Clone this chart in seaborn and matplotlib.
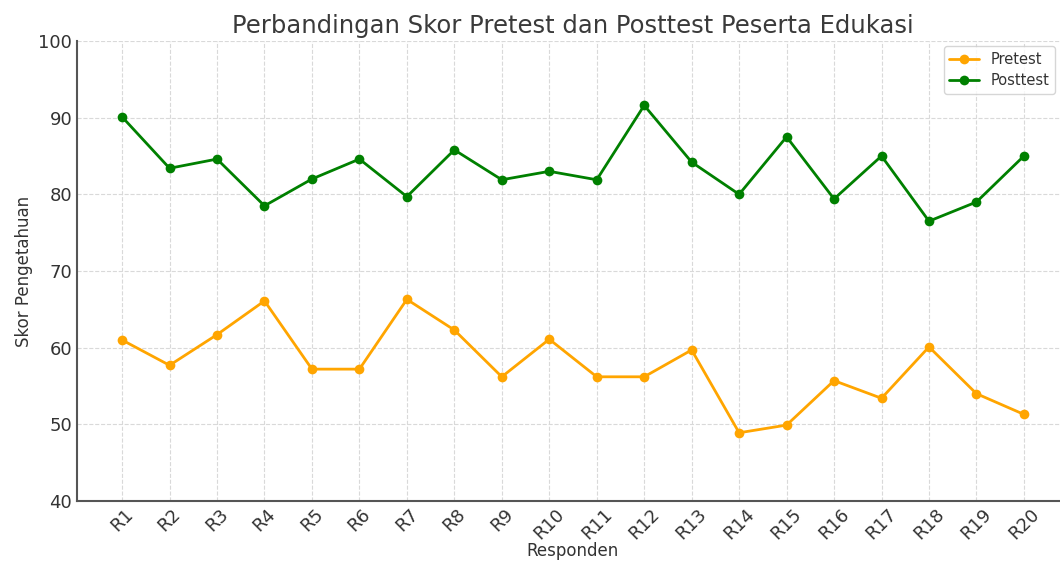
import matplotlib
matplotlib.use("Agg")
import matplotlib.pyplot as plt
import seaborn as sns
import pandas as pd

responden = [f"R{i}" for i in range(1, 21)]
pretest = [61.0, 57.7, 61.7, 66.1, 57.2, 57.2, 66.3, 62.3, 56.2, 61.1,
           56.2, 56.2, 59.7, 48.9, 49.9, 55.7, 53.4, 60.1, 54.0, 51.3]
posttest = [90.1, 83.4, 84.6, 78.5, 82.0, 84.6, 79.7, 85.8, 81.9, 83.0,
            81.9, 91.6, 84.2, 80.0, 87.5, 79.4, 85.0, 76.5, 79.0, 85.0]

df = pd.DataFrame({
    "Responden": responden * 2,
    "Skor": pretest + posttest,
    "Tes": ["Pretest"] * 20 + ["Posttest"] * 20,
})

sns.set_style("whitegrid", {"grid.linestyle": "--", "grid.color": "#d9d9d9"})
plt.rcParams["font.family"] = ["DejaVu Sans"]

fig = plt.figure(figsize=(10.6, 5.61), dpi=100)
ax = fig.add_axes([77/1060, 1 - 501/561, (1069 - 77)/1060, (501 - 41)/561])

sns.lineplot(data=df, x="Responden", y="Skor", hue="Tes",
             palette={"Pretest": "orange", "Posttest": "green"},
             marker="o", markersize=7, markeredgewidth=0, linewidth=2, ax=ax, sort=False)

ax.set_ylim(40, 100)
ax.set_xlim(-0.95, 19.95)
ax.set_yticks(range(40, 101, 10))
ax.set_title("Perbandingan Skor Pretest dan Posttest Peserta Edukasi",
             fontsize=17.5, color="#3a3a3a", pad=6)
ax.set_xlabel("Responden", fontsize=12, color="#333333", labelpad=-1)
ax.set_ylabel("Skor Pengetahuan", fontsize=12, color="#333333")
ax.tick_params(axis="both", labelsize=13, colors="#333333", direction="in", length=4, width=1.2)
ax.tick_params(axis="x", rotation=45, pad=3)
for lbl in ax.get_xticklabels():
    lbl.set_ha("center")
ax.grid(True, linestyle="--", color="#d9d9d9", linewidth=0.8)
for s in ["top", "right"]:
    ax.spines[s].set_visible(False)
for s in ["left", "bottom"]:
    ax.spines[s].set_color("#555555")
    ax.spines[s].set_linewidth(1.5)

leg = ax.legend(title=None, loc="upper right", fontsize=10.5,
                bbox_to_anchor=(1055/1060, 1 - 46/561),
                bbox_transform=fig.transFigure, borderaxespad=0, frameon=True,
                handlelength=2.0, borderpad=0.4, labelspacing=0.4)
leg.get_frame().set_edgecolor("#cccccc")
for t in leg.get_texts():
    t.set_color("#333333")

fig.savefig("out.png", dpi=100)
